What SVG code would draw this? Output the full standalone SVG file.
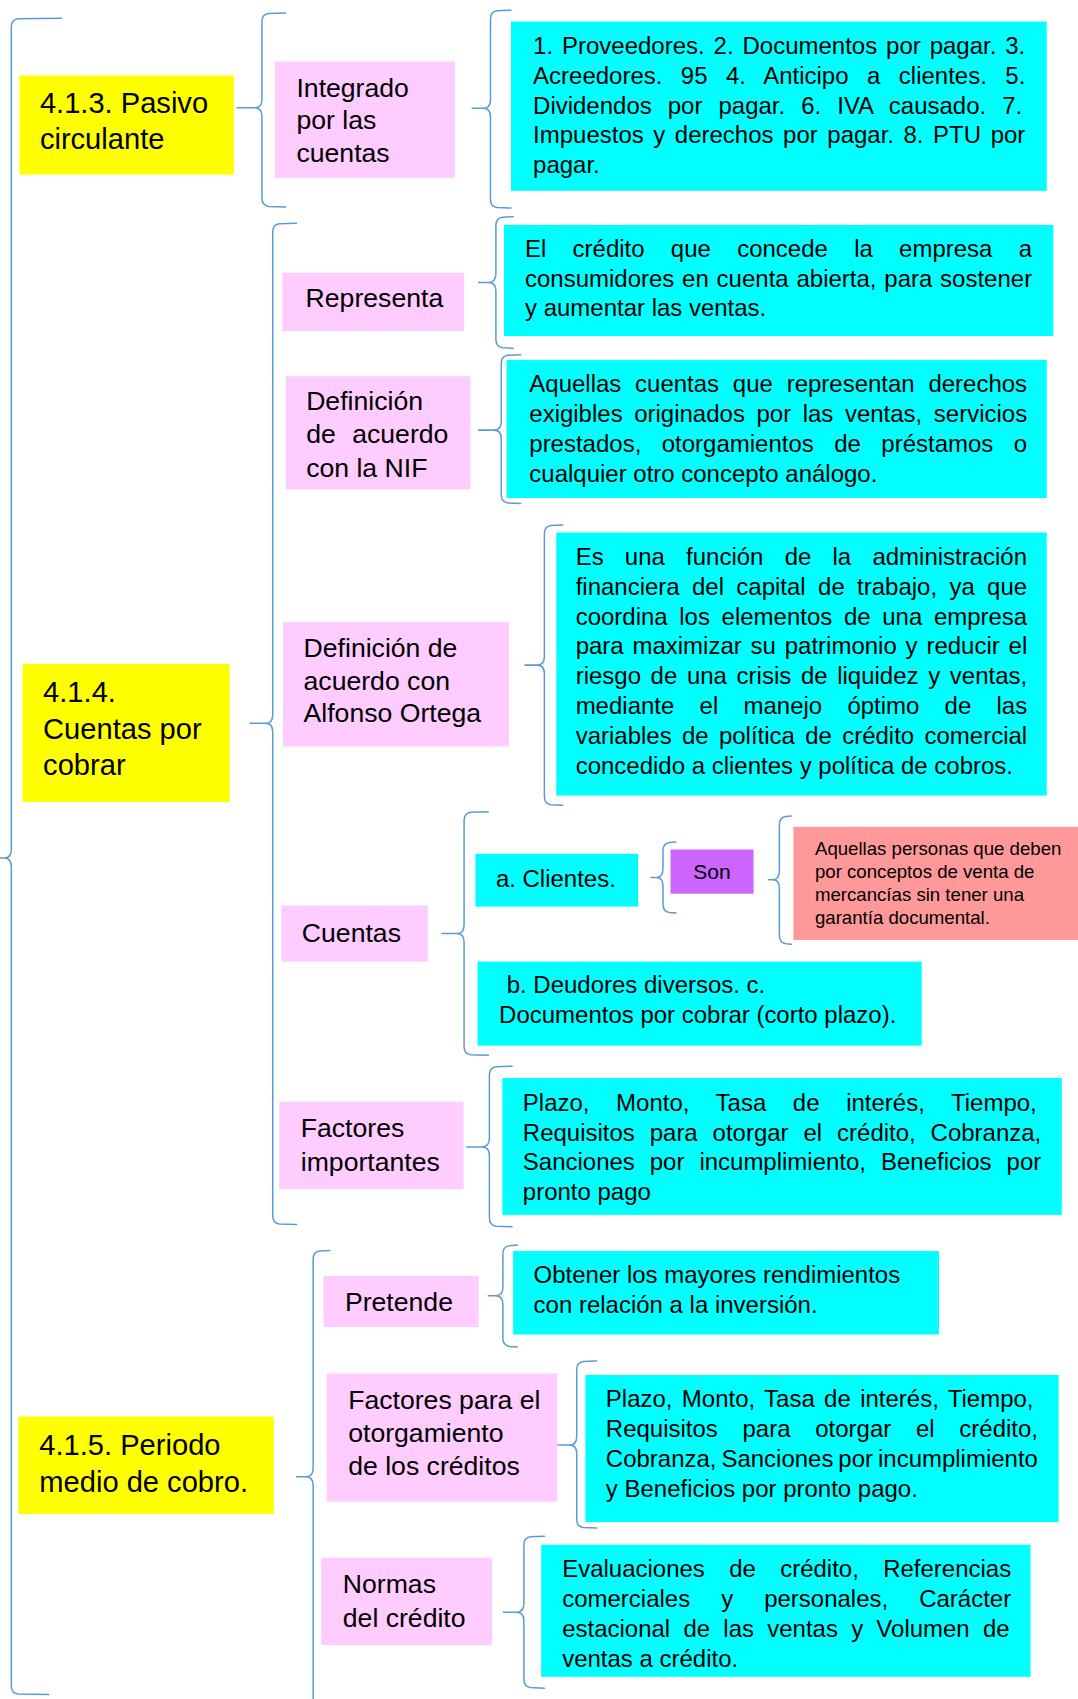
<svg xmlns="http://www.w3.org/2000/svg" width="1078" height="1699" viewBox="0 0 1078 1699">
<style>
.br{fill:none;stroke:#5B9BD5;stroke-width:1.4;stroke-linecap:round;stroke-linejoin:round}
.y{fill:#FFFF00}.p{fill:#FFCCFF}.c{fill:#00FFFF}.v{fill:#CC66FF}.r{fill:#FF9999}
text{font-family:"Liberation Sans",Arial,"Noto Sans",sans-serif;fill:#000}
.ty{font-size:27px}.tp{font-size:24.7px}.tc{font-size:22.26px}.tr{font-size:17.3px}.tv{font-size:19.5px}
</style>
<rect width="1078" height="1699" fill="#FFFFFF"/>
<g transform="scale(1.078)">
<g id="connectors">
<path class="br" d="M57,17 L16.5,17.5 Q10.5,18.5 10.5,25 L10.5,788 Q10.5,796 3.5,796 L0,796 M3.5,796 Q10.5,796 10.5,804 L10.5,1564 Q10.5,1570.5 16.5,1571.5 L45,1572"/>
<path class="br" d="M265,12 L249,12.5 Q243,13.5 243,20 L243,92 Q243,100 236,100 L220,100 M236,100 Q243,100 243,108 L243,184 Q243,190.5 249,191.5 L265,192"/>
<path class="br" d="M474,9.5 L461,10 Q455,11 455,17.5 L455,92.5 Q455,100.5 448,100.5 L438,100.5 M448,100.5 Q455,100.5 455,108.5 L455,185 Q455,191.5 461,192.5 L474,193"/>
<path class="br" d="M275,207 L259,207.5 Q253,208.5 253,215 L253,663 Q253,671 246,671 L232,671 M246,671 Q253,671 253,679 L253,1128 Q253,1134.5 259,1135.5 L275,1136"/>
<path class="br" d="M476,201 L466,201.5 Q460,202.5 460,209 L460,254 Q460,262 453,262 L444,262 M453,262 Q460,262 460,270 L460,315 Q460,321.5 466,322.5 L476,323"/>
<path class="br" d="M483,329 L471,329.5 Q465,330.5 465,337 L465,391 Q465,399 458,399 L444,399 M458,399 Q465,399 465,407 L465,459 Q465,465.5 471,466.5 L483,467"/>
<path class="br" d="M522,487 L511,487.5 Q505,488.5 505,495 L505,609 Q505,617 498,617 L487,617 M498,617 Q505,617 505,625 L505,739 Q505,745.5 511,746.5 L522,747"/>
<path class="br" d="M453,753 L436.5,753.5 Q430.5,754.5 430.5,761 L430.5,858 Q430.5,866 423.5,866 L410,866 M423.5,866 Q430.5,866 430.5,874 L430.5,971 Q430.5,977.5 436.5,978.5 L453,979"/>
<path class="br" d="M627,781 L621,781.5 Q615,782.5 615,789 L615,806 Q615,814 609,814 L604,814 M609,814 Q615,814 615,822 L615,839 Q615,845.5 621,846.5 L627,847"/>
<path class="br" d="M734,757 L729,757.5 Q723,758.5 723,765 L723,808 Q723,816 717,816 L713,816 M717,816 Q723,816 723,824 L723,868 Q723,874.5 729,875.5 L734,876"/>
<path class="br" d="M475,989 L460,989.5 Q454,990.5 454,997 L454,1056 Q454,1064 447,1064 L433,1064 M447,1064 Q454,1064 454,1072 L454,1130 Q454,1136.5 460,1137.5 L475,1138"/>
<path class="br" d="M306,1160 L296.5,1160.5 Q290.5,1161.5 290.5,1168 L290.5,1362 Q290.5,1370 283.5,1370 L275,1370 M283.5,1370 Q290.5,1370 290.5,1378 L290.5,1580"/>
<path class="br" d="M480,1155 L472.5,1155.5 Q466.5,1156.5 466.5,1163 L466.5,1194 Q466.5,1202 459.5,1202 L453,1202 M459.5,1202 Q466.5,1202 466.5,1210 L466.5,1241.5 Q466.5,1248 472.5,1249 L480,1249.5"/>
<path class="br" d="M553.5,1262.5 L541,1263 Q535,1264 535,1270.5 L535,1332.5 Q535,1340.5 528,1340.5 L517.5,1340.5 M528,1340.5 Q535,1340.5 535,1348.5 L535,1409.5 Q535,1416 541,1417 L553.5,1417.5"/>
<path class="br" d="M505,1425 L492,1425.5 Q486,1426.5 486,1433 L486,1487.5 Q486,1495.5 479,1495.5 L467,1495.5 M479,1495.5 Q486,1495.5 486,1503.5 L486,1558 Q486,1564.5 492,1565.5 L505,1566"/>
</g>

<g id="n-pasivo">
<rect class="y" x="18" y="70" width="199" height="92"/>
<text class="ty"><tspan x="37" y="105">4.1.3. Pasivo</tspan><tspan x="37" y="138">circulante</tspan></text>
</g>
<g id="n-integrado">
<rect class="p" x="255" y="57" width="167" height="108"/>
<text class="tp"><tspan x="275" y="90">Integrado</tspan><tspan x="275" y="119.5">por las</tspan><tspan x="275" y="150">cuentas</tspan></text>
</g>
<g id="n-cuentas-pasivo">
<rect class="c" x="474" y="20" width="497" height="157"/>
<text class="tc">
<tspan x="494.5" y="50.4" style="word-spacing:2.1px">1. Proveedores. 2. Documentos por pagar. 3.</tspan>
<tspan x="494.5" y="77.8" style="word-spacing:10.97px">Acreedores. 95 4. Anticipo a clientes. 5.</tspan>
<tspan x="494.5" y="105.4" style="word-spacing:8.7px">Dividendos por pagar. 6. IVA causado. 7.</tspan>
<tspan x="494.5" y="133" style="word-spacing:2.69px">Impuestos y derechos por pagar. 8. PTU por</tspan>
<tspan x="494.5" y="160.6">pagar.</tspan>
</text>
</g>

<g id="n-cuentas-cobrar">
<rect class="y" x="21" y="616" width="192" height="128"/>
<text class="ty"><tspan x="40" y="651">4.1.4.</tspan><tspan x="40" y="685.5">Cuentas por</tspan><tspan x="40" y="719">cobrar</tspan></text>
</g>
<g id="n-representa">
<rect class="p" x="262" y="253" width="168.5" height="54"/>
<text class="tp"><tspan x="283.5" y="285">Representa</tspan></text>
</g>
<g id="n-representa-def">
<rect class="c" x="467.5" y="208.7" width="509.5" height="103"/>
<text class="tc">
<tspan x="487" y="238.7" style="word-spacing:18.2px">El crédito que concede la empresa a</tspan>
<tspan x="487" y="266" style="word-spacing:1.08px">consumidores en cuenta abierta, para sostener</tspan>
<tspan x="487" y="293.3">y aumentar las ventas.</tspan>
</text>
</g>
<g id="n-nif">
<rect class="p" x="265" y="349" width="171.5" height="105"/>
<text class="tp"><tspan x="284" y="380">Definición</tspan><tspan x="284" y="411" style="word-spacing:8.4px">de acuerdo</tspan><tspan x="284" y="442.5">con la NIF</tspan></text>
</g>
<g id="n-nif-def">
<rect class="c" x="470" y="334" width="501" height="128"/>
<text class="tc">
<tspan x="491" y="363.4" style="word-spacing:6.6px">Aquellas cuentas que representan derechos</tspan>
<tspan x="491" y="391.2" style="word-spacing:4.56px">exigibles originados por las ventas, servicios</tspan>
<tspan x="491" y="419" style="word-spacing:12.8px">prestados, otorgamientos de préstamos o</tspan>
<tspan x="491" y="446.8">cualquier otro concepto análogo.</tspan>
</text>
</g>
<g id="n-ortega">
<rect class="p" x="262.5" y="577" width="209.5" height="115.5"/>
<text class="tp"><tspan x="281.6" y="609">Definición de</tspan><tspan x="281.6" y="640">acuerdo con</tspan><tspan x="281.6" y="669.5">Alfonso Ortega</tspan></text>
</g>
<g id="n-ortega-def">
<rect class="c" x="516" y="494" width="455" height="244"/>
<text class="tc">
<tspan x="534" y="524" style="word-spacing:13.5px">Es una función de la administración</tspan>
<tspan x="534" y="551.7" style="word-spacing:5.28px">financiera del capital de trabajo, ya que</tspan>
<tspan x="534" y="579.4" style="word-spacing:4.62px">coordina los elementos de una empresa</tspan>
<tspan x="534" y="607.1" style="word-spacing:2.02px">para maximizar su patrimonio y reducir el</tspan>
<tspan x="534" y="634.8" style="word-spacing:2.77px">riesgo de una crisis de liquidez y ventas,</tspan>
<tspan x="534" y="662.5" style="word-spacing:17.24px">mediante el manejo óptimo de las</tspan>
<tspan x="534" y="690.2" style="word-spacing:3.38px">variables de política de crédito comercial</tspan>
<tspan x="534" y="718">concedido a clientes y política de cobros.</tspan>
</text>
</g>
<g id="n-cuentas">
<rect class="p" x="261" y="840" width="136" height="52"/>
<text class="tp"><tspan x="280" y="874">Cuentas</tspan></text>
</g>
<g id="n-clientes">
<rect class="c" x="441" y="792" width="151" height="49"/>
<text class="tc"><tspan x="460" y="823">a. Clientes.</tspan></text>
</g>
<g id="n-son">
<rect class="v" x="622" y="788" width="77" height="41"/>
<text class="tv" text-anchor="middle"><tspan x="660.5" y="815">Son</tspan></text>
</g>
<g id="n-clientes-def">
<rect class="r" x="736" y="767" width="265" height="105"/>
<text class="tr">
<tspan x="756" y="793">Aquellas personas que deben</tspan>
<tspan x="756" y="814.5">por conceptos de venta de</tspan>
<tspan x="756" y="836">mercancías sin tener una</tspan>
<tspan x="756" y="857.5">garantía documental.</tspan>
</text>
</g>
<g id="n-deudores">
<rect class="c" x="443" y="892" width="412" height="78"/>
<text class="tc"><tspan x="470" y="921">b. Deudores diversos. c.</tspan><tspan x="463" y="949">Documentos por cobrar (corto plazo).</tspan></text>
</g>
<g id="n-factores">
<rect class="p" x="259" y="1022" width="171" height="81"/>
<text class="tp"><tspan x="279" y="1055">Factores</tspan><tspan x="279" y="1086">importantes</tspan></text>
</g>
<g id="n-factores-def">
<rect class="c" x="466" y="1000" width="519" height="127"/>
<text class="tc">
<tspan x="485" y="1030.5" style="word-spacing:18.5px">Plazo, Monto, Tasa de interés, Tiempo,</tspan>
<tspan x="485" y="1058" style="word-spacing:7.64px">Requisitos para otorgar el crédito, Cobranza,</tspan>
<tspan x="485" y="1085.5" style="word-spacing:7.68px">Sanciones por incumplimiento, Beneficios por</tspan>
<tspan x="485" y="1113">pronto pago</tspan>
</text>
</g>

<g id="n-periodo">
<rect class="y" x="17" y="1314" width="237" height="90.5"/>
<text class="ty"><tspan x="36.5" y="1350">4.1.5. Periodo</tspan><tspan x="36.5" y="1384">medio de cobro.</tspan></text>
</g>
<g id="n-pretende">
<rect class="p" x="300" y="1183.5" width="144" height="47.5"/>
<text class="tp"><tspan x="320" y="1216">Pretende</tspan></text>
</g>
<g id="n-pretende-def">
<rect class="c" x="476" y="1160.5" width="395" height="77.5"/>
<text class="tc"><tspan x="495" y="1190">Obtener los mayores rendimientos</tspan><tspan x="495" y="1218">con relación a la inversión.</tspan></text>
</g>
<g id="n-otorgamiento">
<rect class="p" x="303" y="1274" width="214" height="119"/>
<text class="tp"><tspan x="323" y="1307">Factores para el</tspan><tspan x="323" y="1337.5">otorgamiento</tspan><tspan x="323" y="1368">de los créditos</tspan></text>
</g>
<g id="n-otorgamiento-def">
<rect class="c" x="543" y="1275.5" width="439" height="136.5"/>
<text class="tc">
<tspan x="562" y="1305" style="word-spacing:2.5px">Plazo, Monto, Tasa de interés, Tiempo,</tspan>
<tspan x="562" y="1333" style="word-spacing:16.75px">Requisitos para otorgar el crédito,</tspan>
<tspan x="562" y="1361" style="word-spacing:-1.6px">Cobranza, Sanciones por incumplimiento</tspan>
<tspan x="562" y="1388.5">y Beneficios por pronto pago.</tspan>
</text>
</g>
<g id="n-normas">
<rect class="p" x="298" y="1445" width="158.5" height="81"/>
<text class="tp"><tspan x="318" y="1478">Normas</tspan><tspan x="318" y="1509">del crédito</tspan></text>
</g>
<g id="n-normas-def">
<rect class="c" x="502" y="1433" width="454" height="122.5"/>
<text class="tc">
<tspan x="521.5" y="1463" style="word-spacing:16.4px">Evaluaciones de crédito, Referencias</tspan>
<tspan x="521.5" y="1490.5" style="word-spacing:22.6px">comerciales y personales, Carácter</tspan>
<tspan x="521.5" y="1518.5" style="word-spacing:6.1px">estacional de las ventas y Volumen de</tspan>
<tspan x="521.5" y="1546">ventas a crédito.</tspan>
</text>
</g>
</g>
</svg>
